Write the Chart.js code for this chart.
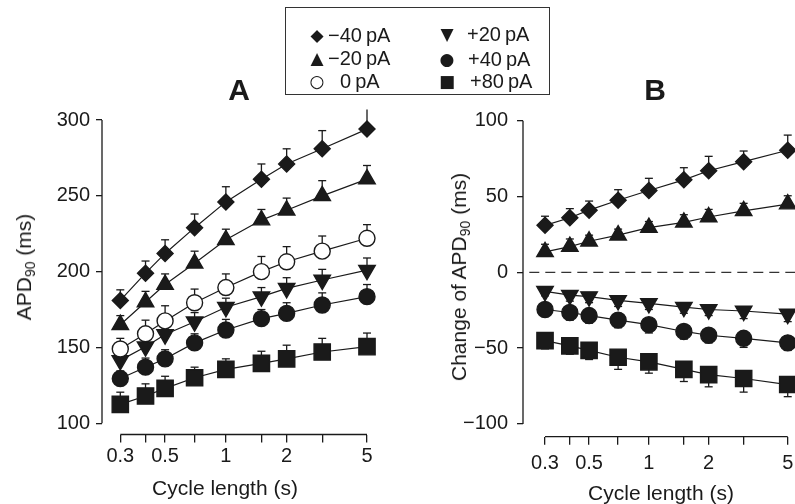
<!DOCTYPE html>
<html>
<head>
<meta charset="utf-8">
<script src="https://cdn.jsdelivr.net/npm/chart.js@4.4.0/dist/chart.umd.min.js"></script>
<style>
  body { margin: 0; background: #fff; }
  #wrap { position: relative; width: 795px; height: 504px; overflow: hidden;
          font-family: "Liberation Sans", Arial, sans-serif; color: #1a1a1a; }
  canvas { position: absolute; top: 0; }
  #chartA { left: 0; }
  #chartB { left: 400px; }
  .t { position: absolute; white-space: nowrap; line-height: 1; }
  .c { transform: translate(-50%, -50%); }
  .rot { transform: translate(-50%, -50%) rotate(-90deg); }
  .ttl { font-size: 21px; }
  .panel { font-size: 30px; font-weight: bold; }
  #legend { position: absolute; left: 285px; top: 7px; width: 265px; height: 88px;
            border: 1.5px solid #333; box-sizing: border-box; }
  .sym { font-family: "DejaVu Sans", sans-serif; font-size: 17px; transform: translate(-50%, -50%); }
  .leg { font-size: 20px; transform: translateY(-50%); }
  sub { font-size: 14px; vertical-align: -4px; }
</style>
</head>
<body>
<div id="wrap">
  <canvas id="chartA" width="400" height="504"></canvas>
  <canvas id="chartB" width="395" height="504"></canvas>

  <div id="legend"></div>
  <span class="t sym" style="left:317px;top:35px">◆</span>
  <span class="t leg" style="left:328px;top:35px">−40&#8201;pA</span>
  <span class="t sym" style="left:317px;top:58px">▲</span>
  <span class="t leg" style="left:328px;top:58px">−20&#8201;pA</span>
  <span class="t sym" style="left:317px;top:81px">○</span>
  <span class="t leg" style="left:340px;top:81px">0&#8201;pA</span>
  <span class="t sym" style="left:447px;top:34px">▼</span>
  <span class="t leg" style="left:467px;top:34px">+20&#8201;pA</span>
  <span class="t sym" style="left:447px;top:59px">●</span>
  <span class="t leg" style="left:468px;top:59px">+40&#8201;pA</span>
  <span class="t sym" style="left:447px;top:81px">■</span>
  <span class="t leg" style="left:470px;top:81px">+80&#8201;pA</span>

  <span class="t c panel" style="left:239px;top:90px">A</span>
  <span class="t c panel" style="left:655px;top:90px">B</span>

  <span class="t rot ttl" style="left:25px;top:267px">APD<sub>90</sub> (ms)</span>
  <span class="t rot ttl" style="left:460px;top:277px">Change of APD<sub>90</sub> (ms)</span>
  <span class="t c ttl" style="left:225px;top:487px">Cycle length (s)</span>
  <span class="t c ttl" style="left:661px;top:492px">Cycle length (s)</span>
</div>

<script>
const cycleLength = [0.3, 0.4, 0.5, 0.7, 1, 1.5, 2, 3, 5];
const xTickLabels = [0.3, 0.5, 1, 2, 5];
const yTicksA = [100, 150, 200, 250, 300];
const yTicksB = [-100, -50, 0, 50, 100];

// panel A: APD90 (ms), mean and upper error
const apdM40 = [181, 199, 212, 229, 246, 261, 271, 281, 294];
const apdM40Err = [7, 8, 9, 9, 10, 10, 10, 12, 13];
const apdM20 = [165, 180, 191.5, 205.5, 221, 234, 240.5, 250, 261];
const apdM20Err = [6, 7, 7, 8, 7, 7, 8, 10, 9];
const apd0 = [149, 159, 167.5, 179.5, 189.5, 200, 206.5, 213.5, 222];
const apd0Err = [7, 9, 10, 9, 9, 10, 10, 10, 9];
const apdP20 = [141.5, 150.5, 158.5, 167, 176.5, 183.5, 189, 194.5, 201];
const apdP20Err = [5, 6, 6, 6, 6, 6, 7, 7, 8];
const apdP40 = [129.5, 137, 142.5, 153, 161.5, 169, 172.5, 178, 183.5];
const apdP40Err = [5, 6, 6, 6, 7, 6, 7, 8, 8];
const apdP80 = [112.5, 118, 123, 130, 135.5, 139.5, 142.5, 147, 150.5];
const apdP80Err = [8, 8, 8, 7, 7, 8, 9, 9, 9];

// panel B: change of APD90 (ms)
const chgM40 = [31, 36, 41, 47.5, 54, 61, 67, 73, 80.5];
const chgM40Err = [6, 6, 6, 7, 8, 8, 9.5, 7, 10];
const chgM20 = [13.5, 17, 20.5, 24.5, 29.5, 33, 36.5, 40.5, 45];
const chgM20Err = [5, 5, 4, 4, 4, 5, 5, 5, 5.5];
const chgP20 = [-12.5, -15, -16, -18.5, -20.5, -23, -24.5, -25.5, -27.5];
const chgP20Err = [3, 4, 4, 4, 4, 4, 4, 5, 5];
const chgP40 = [-24.5, -26.5, -28.5, -31.5, -34.5, -39, -41.5, -43.5, -46.5];
const chgP40Err = [4, 5, 5, 5, 5.5, 5, 5, 6, 5];
const chgP80 = [-45, -48.5, -51.5, -56, -59, -64, -67.5, -70, -74];
const chgP80Err = [5.5, 5.5, 6, 8, 7.5, 8, 8, 9, 8];

const zeroSpan = [0.25, 5.44];

const ink = '#1a1a1a';
const tickFont = {family: '"Liberation Sans", Arial, sans-serif', size: 20};

const markers = {
  m40: {pointStyle: 'rectRot', pointRadius: 8, fill: ink},
  m20: {pointStyle: 'triangle', pointRadius: 9.5, fill: ink},
  zero: {pointStyle: 'circle', pointRadius: 8, fill: '#fff'},
  p20: {pointStyle: 'triangle', pointRadius: 9.5, fill: ink, rotation: 180},
  p40: {pointStyle: 'circle', pointRadius: 8, fill: ink},
  p80: {pointStyle: 'rect', pointRadius: 11.5, fill: ink}
};

const axisLines = {
  id: 'axisLines',
  afterDraw(chart, args, opts) {
    const {ctx, chartArea, scales: {x, y}} = chart;
    ctx.save();
    ctx.strokeStyle = ink;
    ctx.lineWidth = 1.3;
    ctx.beginPath();
    ctx.moveTo(chartArea.left, y.getPixelForValue(opts.yFrom));
    ctx.lineTo(chartArea.left, y.getPixelForValue(opts.yTo));
    ctx.moveTo(x.getPixelForValue(opts.xFrom), chartArea.bottom);
    ctx.lineTo(x.getPixelForValue(opts.xTo), chartArea.bottom);
    ctx.stroke();
    ctx.restore();
  }
};

function errorSegments(ys, errs, dir) {
  const pts = [];
  cycleLength.forEach((x, i) => {
    pts.push({x, y: ys[i]}, {x, y: ys[i] + dir * errs[i]}, {x, y: null});
  });
  return pts;
}

function seriesDatasets(ys, errs, dir, m) {
  return [
    {
      data: errorSegments(ys, errs, dir),
      borderColor: ink, borderWidth: 1.3, spanGaps: false, clip: false,
      pointStyle: 'line', pointBorderColor: ink, pointBorderWidth: 1.3,
      pointRadius: ctx => ctx.dataIndex % 3 === 1 ? 4 : 0,
      order: 3
    },
    {
      data: cycleLength.map((x, i) => ({x, y: ys[i]})),
      borderColor: ink, borderWidth: 1.2, tension: 0, clip: false,
      pointStyle: m.pointStyle, pointRadius: m.pointRadius,
      pointRotation: m.rotation || 0,
      pointBackgroundColor: m.fill, pointBorderColor: ink, pointBorderWidth: 1.4,
      order: 1
    }
  ];
}

function makePanel(id, cfg) {
  const datasets = [];
  cfg.series.forEach(s => datasets.push(...seriesDatasets(s.ys, s.errs, s.dir, s.marker)));
  if (cfg.zeroLine) {
    datasets.push({
      data: zeroSpan.map(x => ({x, y: 0})),
      borderColor: '#333', borderWidth: 1.2, borderDash: [10, 6],
      pointRadius: 0, clip: false, order: 5
    });
  }
  new Chart(document.getElementById(id), {
    type: 'line',
    data: {datasets},
    options: {
      responsive: false,
      animation: false,
      events: [],
      layout: {autoPadding: false, padding: {top: cfg.padTop, right: cfg.padRight, left: 0, bottom: 0}},
      plugins: {
        legend: {display: false},
        tooltip: {enabled: false},
        axisLines: {yFrom: cfg.yTicks[0], yTo: cfg.yTicks[cfg.yTicks.length - 1], xFrom: 0.3, xTo: 5}
      },
      scales: {
        x: {
          type: 'logarithmic', min: cfg.xMin, max: cfg.xMax,
          afterBuildTicks: s => { s.ticks = cycleLength.map(v => ({value: v})); },
          afterFit: s => { s.height = cfg.xHeight; s.paddingLeft = 0; s.paddingRight = 0; },
          border: {display: false},
          grid: {drawOnChartArea: false, color: ink, lineWidth: 1.3, tickLength: 8},
          ticks: {
            autoSkip: false, maxRotation: 0, minRotation: 0, padding: cfg.xPad,
            color: ink, font: tickFont,
            callback: v => xTickLabels.includes(v) ? String(v) : ''
          }
        },
        y: {
          type: 'linear', min: cfg.yMin, max: cfg.yMax,
          afterBuildTicks: s => { s.ticks = cfg.yTicks.map(v => ({value: v})); },
          afterFit: s => { s.width = cfg.yWidth; s.paddingTop = 0; s.paddingBottom = 0; },
          border: {display: false},
          grid: {drawOnChartArea: false, color: ink, lineWidth: 1.3, tickLength: 6},
          ticks: {
            padding: cfg.yPad, color: ink, font: tickFont,
            callback: v => v < 0 ? '\u2212' + Math.abs(v) : String(v)
          }
        }
      }
    },
    plugins: [axisLines]
  });
}

makePanel('chartA', {
  padTop: 120, padRight: 33, yWidth: 102, xHeight: 69.5, yPad: 6, xPad: 2,
  xMin: 0.2435, xMax: 5, yMin: 92.6, yMax: 300, yTicks: yTicksA,
  series: [
    {ys: apdM40, errs: apdM40Err, dir: 1, marker: markers.m40},
    {ys: apdM20, errs: apdM20Err, dir: 1, marker: markers.m20},
    {ys: apd0, errs: apd0Err, dir: 1, marker: markers.zero},
    {ys: apdP20, errs: apdP20Err, dir: 1, marker: markers.p20},
    {ys: apdP40, errs: apdP40Err, dir: 1, marker: markers.p40},
    {ys: apdP80, errs: apdP80Err, dir: 1, marker: markers.p80}
  ]
});

makePanel('chartB', {
  padTop: 120.7, padRight: 0, yWidth: 123, xHeight: 67.3, yPad: 9, xPad: 7,
  xMin: 0.2324, xMax: 5.44, yMin: -108.4, yMax: 100, yTicks: yTicksB,
  zeroLine: true,
  series: [
    {ys: chgM40, errs: chgM40Err, dir: 1, marker: markers.m40},
    {ys: chgM20, errs: chgM20Err, dir: 1, marker: markers.m20},
    {ys: chgP20, errs: chgP20Err, dir: -1, marker: markers.p20},
    {ys: chgP40, errs: chgP40Err, dir: -1, marker: markers.p40},
    {ys: chgP80, errs: chgP80Err, dir: -1, marker: markers.p80}
  ]
});
</script>
</body>
</html>
